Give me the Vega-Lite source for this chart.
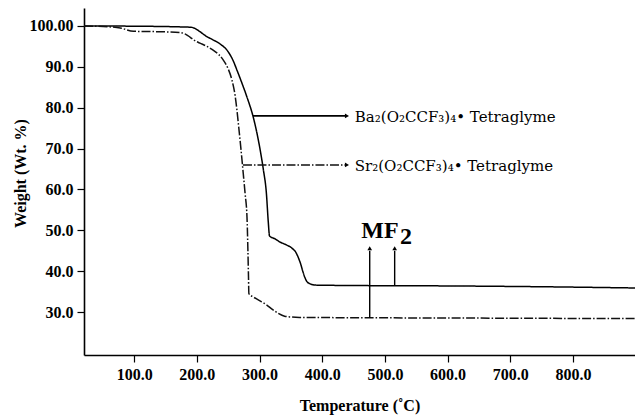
{
  "$schema": "https://vega.github.io/schema/vega-lite/v6.json",
  "width": 551,
  "height": 347,
  "autosize": {"type": "none"},
  "padding": {"left": 84, "top": 8, "right": 0, "bottom": 60},
  "background": "white",
  "config": {
    "view": {"stroke": null},
    "font": "Liberation Serif",
    "axis": {"grid": false, "domainColor": "#000", "domainWidth": 1.6, "tickColor": "#000", "tickWidth": 1.2, "tickSize": 7,
      "labelFont": "Liberation Serif", "labelFontWeight": "bold", "labelFontSize": 16, "labelColor": "#000", "labelPadding": 4,
      "titleFont": "Liberation Serif", "titleFontWeight": "bold", "titleFontSize": 16, "titleColor": "#000"}
  },
  "datasets": {
    "tga": [
      {"temp": 20, "weight": 100, "sample": "Ba"},
      {"temp": 100, "weight": 99.95, "sample": "Ba"},
      {"temp": 190, "weight": 99.7, "sample": "Ba"},
      {"temp": 197, "weight": 99.4, "sample": "Ba"},
      {"temp": 205, "weight": 98.6, "sample": "Ba"},
      {"temp": 215, "weight": 97.5, "sample": "Ba"},
      {"temp": 226, "weight": 96.6, "sample": "Ba"},
      {"temp": 238, "weight": 95.5, "sample": "Ba"},
      {"temp": 248, "weight": 94.1, "sample": "Ba"},
      {"temp": 258, "weight": 91.5, "sample": "Ba"},
      {"temp": 264, "weight": 89.2, "sample": "Ba"},
      {"temp": 272, "weight": 86.0, "sample": "Ba"},
      {"temp": 280, "weight": 82.6, "sample": "Ba"},
      {"temp": 290, "weight": 77.7, "sample": "Ba"},
      {"temp": 301, "weight": 69.7, "sample": "Ba"},
      {"temp": 306, "weight": 65.0, "sample": "Ba"},
      {"temp": 311, "weight": 59.0, "sample": "Ba"},
      {"temp": 314, "weight": 52.0, "sample": "Ba"},
      {"temp": 316, "weight": 48.6, "sample": "Ba"},
      {"temp": 325, "weight": 47.9, "sample": "Ba"},
      {"temp": 332, "weight": 47.2, "sample": "Ba"},
      {"temp": 342, "weight": 46.5, "sample": "Ba"},
      {"temp": 352, "weight": 45.6, "sample": "Ba"},
      {"temp": 358, "weight": 44.6, "sample": "Ba"},
      {"temp": 362, "weight": 43.3, "sample": "Ba"},
      {"temp": 366, "weight": 41.6, "sample": "Ba"},
      {"temp": 369, "weight": 40.0, "sample": "Ba"},
      {"temp": 372, "weight": 38.6, "sample": "Ba"},
      {"temp": 376, "weight": 37.4, "sample": "Ba"},
      {"temp": 381, "weight": 36.9, "sample": "Ba"},
      {"temp": 390, "weight": 36.6, "sample": "Ba"},
      {"temp": 450, "weight": 36.5, "sample": "Ba"},
      {"temp": 600, "weight": 36.4, "sample": "Ba"},
      {"temp": 750, "weight": 36.2, "sample": "Ba"},
      {"temp": 899, "weight": 35.9, "sample": "Ba"},
      {"temp": 20, "weight": 100, "sample": "Sr"},
      {"temp": 60, "weight": 99.8, "sample": "Sr"},
      {"temp": 78, "weight": 99.5, "sample": "Sr"},
      {"temp": 99, "weight": 98.7, "sample": "Sr"},
      {"temp": 140, "weight": 98.6, "sample": "Sr"},
      {"temp": 173, "weight": 98.4, "sample": "Sr"},
      {"temp": 183, "weight": 97.9, "sample": "Sr"},
      {"temp": 189, "weight": 97.3, "sample": "Sr"},
      {"temp": 197, "weight": 96.4, "sample": "Sr"},
      {"temp": 205, "weight": 95.8, "sample": "Sr"},
      {"temp": 215, "weight": 95.1, "sample": "Sr"},
      {"temp": 226, "weight": 94.1, "sample": "Sr"},
      {"temp": 235, "weight": 93.0, "sample": "Sr"},
      {"temp": 242, "weight": 91.7, "sample": "Sr"},
      {"temp": 250, "weight": 89.5, "sample": "Sr"},
      {"temp": 256, "weight": 86.8, "sample": "Sr"},
      {"temp": 261, "weight": 83.0, "sample": "Sr"},
      {"temp": 264, "weight": 79.4, "sample": "Sr"},
      {"temp": 267, "weight": 75.0, "sample": "Sr"},
      {"temp": 270, "weight": 70.5, "sample": "Sr"},
      {"temp": 274, "weight": 64.0, "sample": "Sr"},
      {"temp": 277, "weight": 59.0, "sample": "Sr"},
      {"temp": 280, "weight": 53.3, "sample": "Sr"},
      {"temp": 281.5, "weight": 45.0, "sample": "Sr"},
      {"temp": 282.5, "weight": 38.0, "sample": "Sr"},
      {"temp": 283, "weight": 34.5, "sample": "Sr"},
      {"temp": 290, "weight": 33.7, "sample": "Sr"},
      {"temp": 300, "weight": 32.8, "sample": "Sr"},
      {"temp": 310, "weight": 31.9, "sample": "Sr"},
      {"temp": 321, "weight": 30.6, "sample": "Sr"},
      {"temp": 330, "weight": 29.7, "sample": "Sr"},
      {"temp": 340, "weight": 29.0, "sample": "Sr"},
      {"temp": 350, "weight": 28.8, "sample": "Sr"},
      {"temp": 364, "weight": 28.7, "sample": "Sr"},
      {"temp": 500, "weight": 28.6, "sample": "Sr"},
      {"temp": 700, "weight": 28.5, "sample": "Sr"},
      {"temp": 899, "weight": 28.4, "sample": "Sr"}
    ],
    "arrows": [
      {"x": 289.5, "x2": 437, "y": 78.0, "y2": 78.0, "kind": "Ba"},
      {"x": 273.6, "x2": 437, "y": 66.0, "y2": 66.0, "kind": "Sr"},
      {"x": 475.8, "x2": 475.8, "y": 28.6, "y2": 45.0, "kind": "MF"},
      {"x": 515.6, "x2": 515.6, "y": 36.4, "y2": 45.0, "kind": "MF"}
    ],
    "heads": [
      {"x": 439.5, "y": 78.0, "shape": "triangle-right"},
      {"x": 439.5, "y": 66.0, "shape": "triangle-right"},
      {"x": 475.8, "y": 45.6, "shape": "triangle-up"},
      {"x": 515.6, "y": 45.6, "shape": "triangle-up"}
    ],
    "labels": [
      {"x": 452, "y": 77.8, "text": "Ba₂(O₂CCF₃)₄• Tetraglyme", "kind": "cmp"},
      {"x": 452, "y": 65.8, "text": "Sr₂(O₂CCF₃)₄• Tetraglyme", "kind": "cmp"}
    ],
    "mf": [
      {"x": 462.3, "y": 48.1, "text": "MF"},
      {"x": 524.0, "y": 46.6, "text": "2"}
    ]
  },
  "layer": [
    {
      "mark": {"type": "rule", "color": "#000", "strokeWidth": 1.6},
      "encoding": {"y": {"datum": 104.4, "type": "quantitative"}}
    },
    {
      "data": {"name": "tga"},
      "mark": {"type": "line", "strokeWidth": 1.5, "interpolate": "monotone"},
      "encoding": {
        "x": {"field": "temp", "type": "quantitative", "title": "Temperature (˚C)",
          "scale": {"domain": [20, 899], "nice": false, "zero": false},
          "axis": {"values": [100, 200, 300, 400, 500, 600, 700, 800], "format": ".1f", "titleY": 55, "titleBaseline": "alphabetic"}},
        "y": {"field": "weight", "type": "quantitative", "title": "Weight (Wt. %)",
          "scale": {"domain": [19.5, 104.4], "nice": false, "zero": false},
          "axis": {"values": [30, 40, 50, 60, 70, 80, 90, 100], "labelExpr": "datum.value == 100 ? '100.00' : format(datum.value, '.1f')", "titleX": -64, "titleY": 165, "titleAngle": -90, "titleAlign": "center", "titleBaseline": "middle"}},
        "color": {"field": "sample", "type": "nominal", "legend": null, "scale": {"domain": ["Ba", "Sr"], "range": ["#000", "#111"]}},
        "strokeDash": {"field": "sample", "type": "nominal", "legend": null, "scale": {"domain": ["Ba", "Sr"], "range": [[1, 0], [9, 2, 1.5, 2]]}},
        "strokeWidth": {"field": "sample", "type": "nominal", "legend": null, "scale": {"domain": ["Ba", "Sr"], "range": [1.8, 1.4]}}
      }
    },
    {
      "data": {"name": "arrows"},
      "mark": {"type": "rule"},
      "encoding": {
        "x": {"field": "x", "type": "quantitative"},
        "x2": {"field": "x2"},
        "y": {"field": "y", "type": "quantitative"},
        "y2": {"field": "y2"},
        "color": {"field": "kind", "type": "nominal", "legend": null, "scale": {"domain": ["Ba", "Sr", "MF"], "range": ["#000", "#555", "#666"]}},
        "strokeDash": {"field": "kind", "type": "nominal", "legend": null, "scale": {"domain": ["Ba", "Sr", "MF"], "range": [[1, 0], [4, 1.5, 1, 1.5], [1, 0]]}},
        "strokeWidth": {"field": "kind", "type": "nominal", "legend": null, "scale": {"domain": ["Ba", "Sr", "MF"], "range": [1.5, 1, 1.2]}}
      }
    },
    {
      "data": {"name": "heads"},
      "mark": {"type": "point", "filled": true, "size": 22, "color": "#000", "opacity": 1},
      "encoding": {
        "x": {"field": "x", "type": "quantitative"},
        "y": {"field": "y", "type": "quantitative"},
        "shape": {"field": "shape", "type": "nominal", "legend": null, "scale": null}
      }
    },
    {
      "data": {"name": "labels"},
      "mark": {"type": "text", "align": "left", "baseline": "middle", "font": "DejaVu Serif", "fontSize": 15, "color": "#000"},
      "encoding": {
        "x": {"field": "x", "type": "quantitative"},
        "y": {"field": "y", "type": "quantitative"},
        "text": {"field": "text"}
      }
    },
    {
      "data": {"name": "mf"},
      "mark": {"type": "text", "align": "left", "baseline": "alphabetic", "font": "Liberation Serif", "fontWeight": "bold", "fontSize": 24, "color": "#000"},
      "encoding": {
        "x": {"field": "x", "type": "quantitative"},
        "y": {"field": "y", "type": "quantitative"},
        "text": {"field": "text"}
      }
    }
  ]
}
